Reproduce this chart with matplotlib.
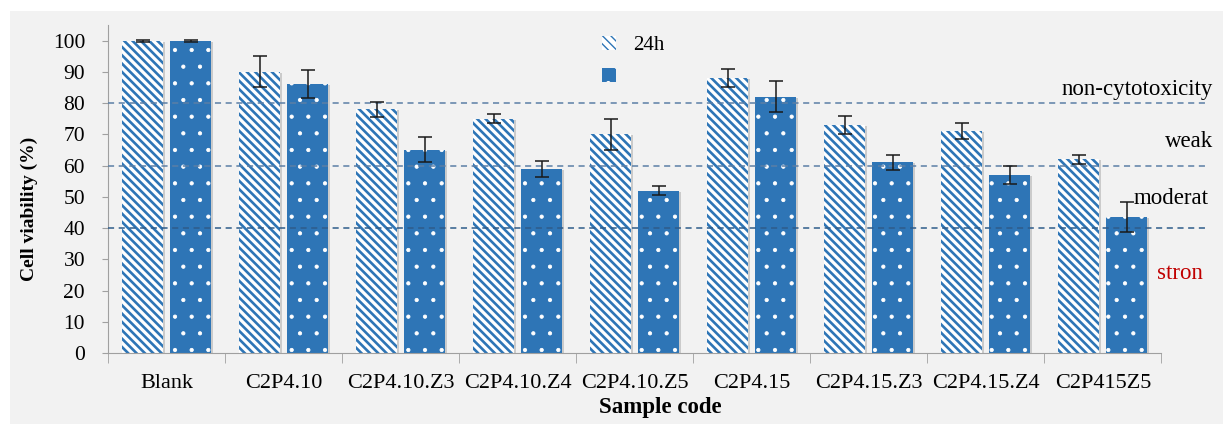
import numpy as np
import matplotlib.pyplot as plt
from matplotlib.patches import Rectangle
import matplotlib.transforms as mtrans

samples = ['Blank', 'C2P4.10', 'C2P4.10.Z3', 'C2P4.10.Z4', 'C2P4.10.Z5',
           'C2P4.15', 'C2P4.15.Z3', 'C2P4.15.Z4', 'C2P415Z5']
v24 = [100, 90, 78, 75, 70, 88, 73, 71, 62]
e24 = [0.3, 5, 2.5, 1.5, 5, 3, 3, 2.5, 1.5]
v48 = [100, 86, 65, 59, 52, 82, 61, 57, 43.5]
e48 = [0.3, 4.5, 4, 2.5, 1.5, 5, 2.5, 3, 4.7]
limits = [80, 60, 40]
limit_names = ['non-cytotoxicity', 'weak', 'moderat', 'stron']
limit_ypos = [84.3, 67.6, 49.4, 25.5]
limit_xpos = [8.94, 8.94, 8.90, 8.85]

blue = '#2e75b6'
plt.rcParams['font.family'] = ['Liberation Serif', 'DejaVu Serif']

fig = plt.figure(figsize=(12.23, 4.24), dpi=100)
fig.patches.append(Rectangle((10/1223, 0), 1, 1 - 11/424, transform=fig.transFigure,
                             facecolor='#f2f2f2', edgecolor='none', zorder=-10))
ax = fig.add_axes([108/1223, 1 - 353/424, (1213 - 108)/1223, (353 - 25)/424])
ax.set_facecolor('none')

x = np.arange(len(samples))
w = 0.35
off = 0.205

# soft shadows
sh = mtrans.offset_copy(ax.transData, fig=fig, x=2, y=-1, units='dots')
ax.bar(x - off, v24, w, color='#000000', alpha=0.16, transform=sh, zorder=1)
ax.bar(x + off, v48, w, color='#000000', alpha=0.16, transform=sh, zorder=1)

b1 = ax.bar(x - off, v24, w, facecolor='white', edgecolor=blue, linewidth=0,
            hatch='\\\\\\\\', label='24h', zorder=2)
b2 = ax.bar(x + off, v48, w, facecolor=blue, edgecolor='white', linewidth=0,
            hatch='.', label=' ', zorder=2)
for p in b1:
    p.set_hatch_linewidth(1.9)
for p in b2:
    p.set_hatch_linewidth(0.6)

ax.errorbar(x - off, v24, yerr=e24, fmt='none', ecolor='#1a1a1a', elinewidth=1.1,
            capsize=5, capthick=1.1, zorder=4)
ax.errorbar(x + off, v48, yerr=e48, fmt='none', ecolor='#1a1a1a', elinewidth=1.1,
            capsize=5, capthick=1.1, zorder=4)

ax.hlines(limits, -0.5, 8.9, colors=['#5b7fa6', '#5b7fa6', '#2e5c8a'],
          linestyles=(0, (4, 3)), linewidth=1.1, zorder=3)
for name, xx, yy, c in zip(limit_names, limit_xpos, limit_ypos, ['k', 'k', 'k', '#c00000']):
    ax.text(xx, yy, name, ha='right', va='center', fontsize=16.5, color=c, zorder=5)

ax.set_xlim(-0.5, 8.94)
ax.set_ylim(0, 105)
ax.set_yticks(range(0, 101, 10))
ax.set_xticks(x)
ax.set_xticklabels(samples)
ax.set_xticks(np.arange(-0.5, 9, 1), minor=True)
ax.tick_params(axis='x', which='major', length=0, labelsize=16, pad=15)
ax.tick_params(axis='x', which='minor', length=7, color='#a0a0a0', direction='out')
ax.tick_params(axis='y', length=4.5, color='#a0a0a0', labelsize=15.5, pad=12)
for s in ['top', 'right']:
    ax.spines[s].set_visible(False)
ax.spines['left'].set_color('#a0a0a0')
ax.spines['bottom'].set_color('#a0a0a0')
ax.spines['bottom'].set_bounds(-0.5, 8.5)

ax.set_ylabel('Cell viability (%)', fontsize=14, fontweight='bold')
ax.yaxis.set_label_coords(-70/1105, 0.44)
ax.set_xlabel('Sample code', fontsize=16.5, fontweight='bold')
ax.xaxis.set_label_coords(0.5, -55/328)
ax.xaxis.label.set_va('center')

ax.legend(loc='upper left', bbox_to_anchor=(583/1223, 1 - 17/424), bbox_transform=fig.transFigure,
          frameon=False, fontsize=15, handlelength=0.67, handleheight=0.67,
          labelspacing=0.62, handletextpad=0.82)

fig.savefig('out.png', dpi=100)
